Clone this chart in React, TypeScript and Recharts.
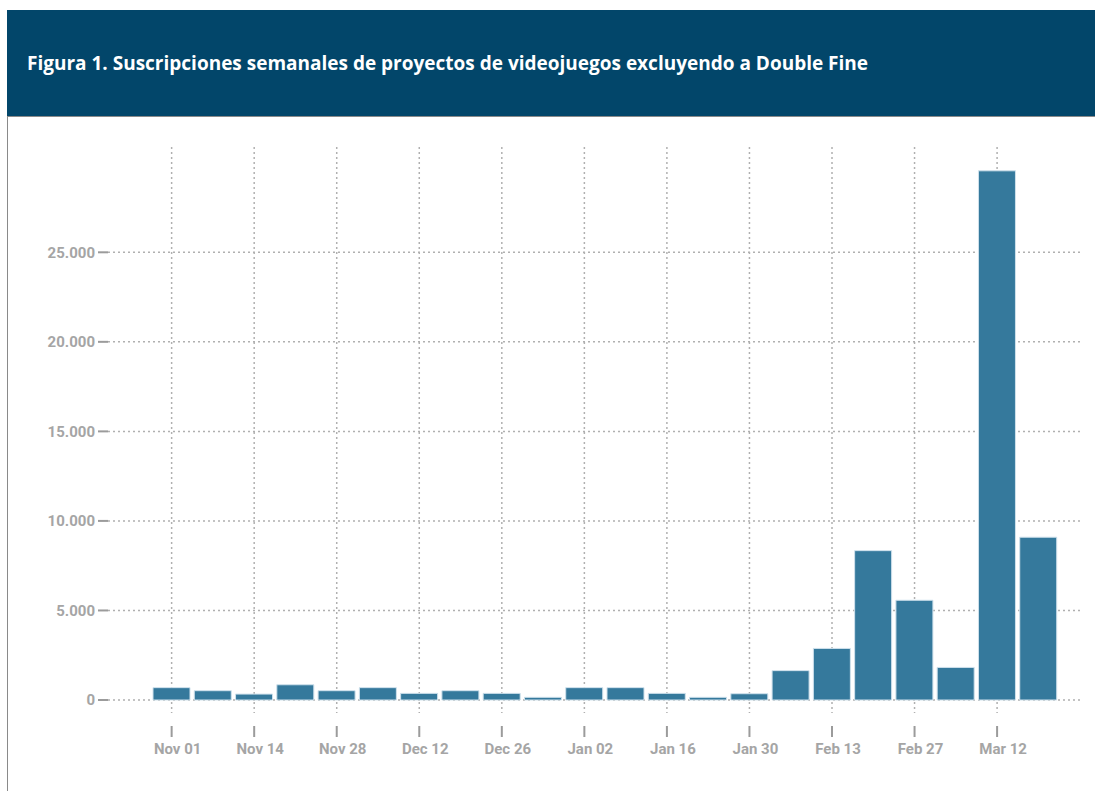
import React from "react"
import { BarChart, Bar, XAxis, YAxis, CartesianGrid } from "recharts"

// weekly subscriptions, Nov – Mar
const WEEKS = [
  "Nov 01", "Nov 07", "Nov 14", "Nov 21", "Nov 28", "Dec 05", "Dec 12", "Dec 19",
  "Dec 26", "Dec 31", "Jan 02", "Jan 09", "Jan 16", "Jan 23", "Jan 30", "Feb 06",
  "Feb 13", "Feb 20", "Feb 27", "Mar 05", "Mar 12", "Mar 19",
]
const SUBSCRIPTIONS = [
  690, 520, 330, 850, 520, 690, 370, 520, 370, 150, 690,
  690, 370, 150, 350, 1640, 2880, 8340, 5570, 1820, 29550, 9090,
]
const TICK_WEEKS = [
  "Nov 01", "Nov 14", "Nov 28", "Dec 12", "Dec 26", "Jan 02",
  "Jan 16", "Jan 30", "Feb 13", "Feb 27", "Mar 12",
]
const Y_TICKS = [0, 5000, 10000, 15000, 20000, 25000]
const Y_MAX = 30880

const TITLE = "Figura 1. Suscripciones semanales de proyectos de videojuegos excluyendo a Double Fine"

const data = WEEKS.map((week, i) => ({ week, value: SUBSCRIPTIONS[i] }))

const fmt = (v: number) => v.toLocaleString("de-DE")

const XTick = ({ x, y, payload }: any) => (
  <g>
    <line x1={x} x2={x} y1={y + 13} y2={y + 24} stroke="#9b9b9b" strokeWidth={2} />
    <text
      x={x + 6}
      y={y + 41}
      textAnchor="middle"
      fill="#a5a5a5"
      fontSize={15}
      fontWeight={700}
      fontFamily="Roboto"
    >
      {payload.value}
    </text>
  </g>
)

export default function App() {
  return (
    <div style={{ position: "absolute", left: 7, top: 10, width: 1088, height: 781 }}>
      <div style={{ position: "relative", height: 106, background: "#02466a", borderBottom: "1px solid #8a8a8a" }}>
        <div
          style={{
            position: "absolute",
            left: 20,
            top: 40,
            lineHeight: "27px",
            fontFamily: "'Open Sans'",
            fontWeight: 700,
            fontSize: 19,
            color: "#ffffff",
            whiteSpace: "nowrap",
          }}
        >
          {TITLE}
        </div>
      </div>
      <div style={{ borderLeft: "1px solid #8a8a8a", height: 674 }}>
        <BarChart
          width={1087}
          height={674}
          data={data}
          margin={{ top: 30, right: 12, left: 0, bottom: 48 }}
          barSize={37}
        >
          {/* syncWithTicks: grid only at ticks, no frame */}
          <CartesianGrid
            stroke="#b0b0b0"
            strokeWidth={1.5}
            strokeDasharray="2 3"
            syncWithTicks
          />
          <XAxis
            dataKey="week"
            ticks={TICK_WEEKS}
            interval={0}
            axisLine={false}
            tickLine={false}
            tickSize={0}
            tickMargin={0}
            height={30}
            padding={{ left: 43, right: 24 }}
            tick={<XTick />}
          />
          <YAxis
            type="number"
            domain={[0, Y_MAX]}
            ticks={Y_TICKS}
            tickFormatter={fmt}
            width={100}
            axisLine={false}
            tickSize={10}
            tickMargin={3}
            tickLine={{ stroke: "#9b9b9b", strokeWidth: 2 }}
            padding={{ top: 0, bottom: 13 }}
            tick={{ fill: "#a5a5a5", fontSize: 15, fontWeight: 700, fontFamily: "Roboto" }}
          />
          <Bar
            dataKey="value"
            fill="#35799c"
            stroke="#cfe1ec"
            strokeWidth={1}
            isAnimationActive={false}
          />
        </BarChart>
      </div>
    </div>
  )
}
